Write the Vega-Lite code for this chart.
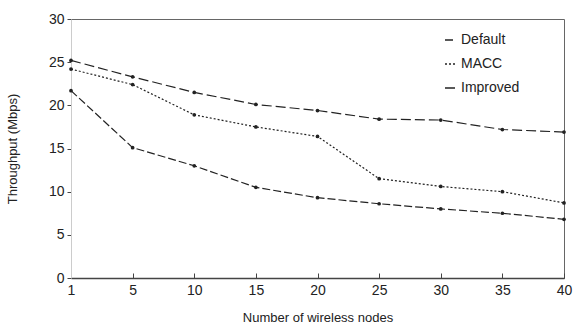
{
  "$schema": "https://vega.github.io/schema/vega-lite/v6.json",
  "autosize": "none",
  "width": 493,
  "height": 259,
  "padding": {"left": 71, "top": 19, "right": 10, "bottom": 51},
  "background": "white",
  "config": {
    "font": "Liberation Sans",
    "view": {"stroke": "#666", "strokeWidth": 1},
    "axis": {"grid": false, "labelFont": "Liberation Sans", "titleFont": "Liberation Sans", "labelFontSize": 14, "titleFontSize": 13, "titleFontWeight": "normal", "labelColor": "#222", "titleColor": "#222", "domainColor": "#444", "tickColor": "#444"}
  },
  "data": {"values": [
    {"nodes": 1, "thr": 21.7, "series": "Default"},
    {"nodes": 5, "thr": 15.1, "series": "Default"},
    {"nodes": 10, "thr": 13.0, "series": "Default"},
    {"nodes": 15, "thr": 10.5, "series": "Default"},
    {"nodes": 20, "thr": 9.3, "series": "Default"},
    {"nodes": 25, "thr": 8.6, "series": "Default"},
    {"nodes": 30, "thr": 8.0, "series": "Default"},
    {"nodes": 35, "thr": 7.5, "series": "Default"},
    {"nodes": 40, "thr": 6.8, "series": "Default"},
    {"nodes": 1, "thr": 24.2, "series": "MACC"},
    {"nodes": 5, "thr": 22.4, "series": "MACC"},
    {"nodes": 10, "thr": 18.9, "series": "MACC"},
    {"nodes": 15, "thr": 17.5, "series": "MACC"},
    {"nodes": 20, "thr": 16.4, "series": "MACC"},
    {"nodes": 25, "thr": 11.5, "series": "MACC"},
    {"nodes": 30, "thr": 10.6, "series": "MACC"},
    {"nodes": 35, "thr": 10.0, "series": "MACC"},
    {"nodes": 40, "thr": 8.7, "series": "MACC"},
    {"nodes": 1, "thr": 25.2, "series": "Improved"},
    {"nodes": 5, "thr": 23.3, "series": "Improved"},
    {"nodes": 10, "thr": 21.5, "series": "Improved"},
    {"nodes": 15, "thr": 20.1, "series": "Improved"},
    {"nodes": 20, "thr": 19.4, "series": "Improved"},
    {"nodes": 25, "thr": 18.4, "series": "Improved"},
    {"nodes": 30, "thr": 18.3, "series": "Improved"},
    {"nodes": 35, "thr": 17.2, "series": "Improved"},
    {"nodes": 40, "thr": 16.9, "series": "Improved"}
  ]},
  "mark": {"type": "line", "strokeWidth": 1.2, "point": {"filled": true, "size": 14}},
  "encoding": {
    "x": {"field": "nodes", "type": "ordinal", "sort": [1, 5, 10, 15, 20, 25, 30, 35, 40],
      "scale": {"type": "point", "padding": 0},
      "axis": {"title": "Number of wireless nodes", "labelAngle": 0, "tickSize": -5, "labelPadding": 10, "titleY": 33, "titleBaseline": "top", "domainWidth": 1.5}},
    "y": {"field": "thr", "type": "quantitative", "scale": {"domain": [0, 30]},
      "axis": {"title": "Throughput (Mbps)", "values": [0, 5, 10, 15, 20, 25, 30], "tickSize": 4, "titleX": -52, "domainColor": "#ccc", "labelPadding": 3}},
    "color": {"field": "series", "type": "nominal",
      "scale": {"domain": ["Default", "MACC", "Improved"], "range": ["#222", "#222", "#222"]},
      "legend": {"title": null, "orient": "none", "legendX": 372, "legendY": 14, "labelFontSize": 14, "symbolType": "stroke", "symbolSize": 100, "symbolStrokeWidth": 1.5, "rowPadding": 10, "labelColor": "#222"}},
    "strokeDash": {"field": "series", "type": "nominal",
      "scale": {"domain": ["Default", "MACC", "Improved"], "range": [[8, 3], [2, 2], [10, 4]]},
      "legend": {"title": null, "orient": "none", "legendX": 372, "legendY": 14, "labelFontSize": 14, "symbolType": "stroke", "symbolSize": 100, "symbolStrokeWidth": 1.5, "rowPadding": 10, "labelColor": "#222"}}
  }
}
